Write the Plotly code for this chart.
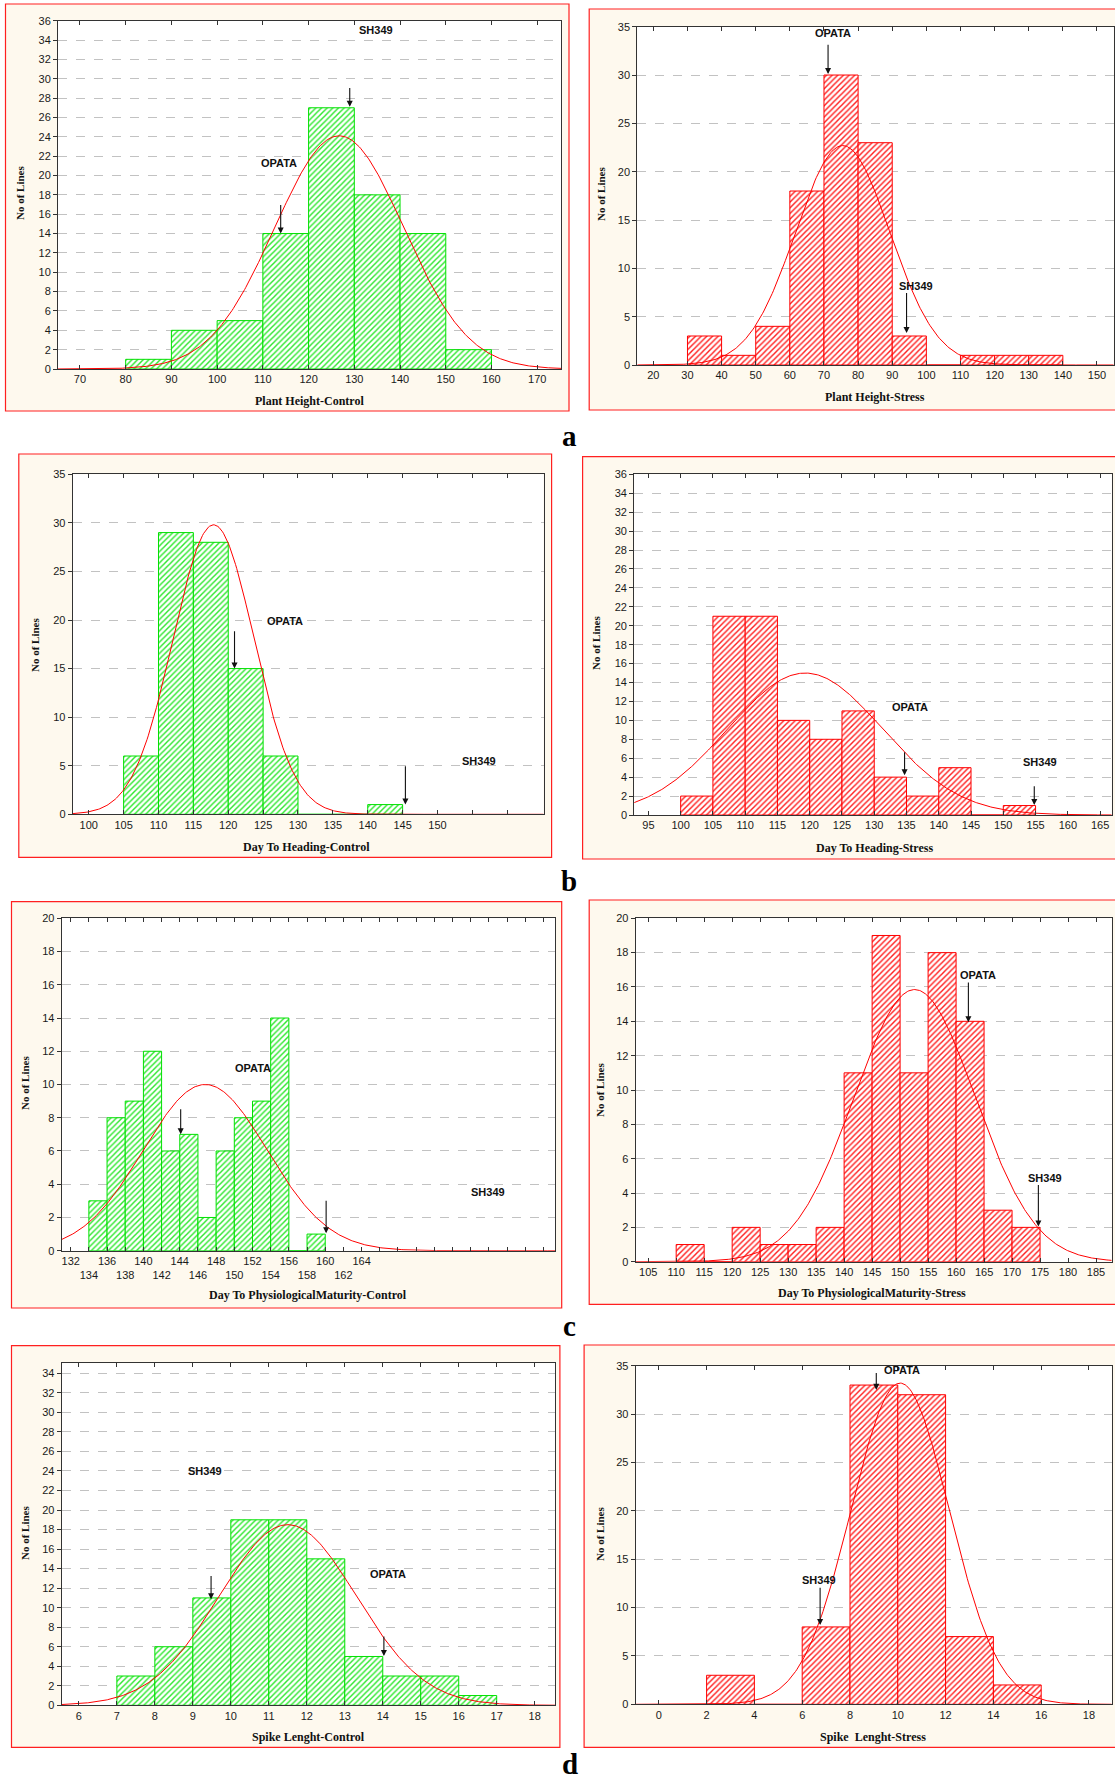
import numpy as np
import plotly.graph_objects as go

W, H = 1115, 1784

# ---------------- data ----------------
# (a) Plant height
ph_ctrl_bins = [80, 90, 100, 110, 120, 130, 140, 150]
ph_ctrl_counts = [1, 4, 5, 14, 27, 18, 14, 2]
ph_ctrl_fit = [126.7, 14.1, 24.1]          # mean, sd, peak count of fitted normal
ph_ctrl_xticks = [70, 80, 90, 100, 110, 120, 130, 140, 150, 160, 170]
ph_ctrl_yticks = [0, 2, 4, 6, 8, 10, 12, 14, 16, 18, 20, 22, 24, 26, 28, 30, 32, 34, 36]

ph_str_bins = [30, 40, 50, 60, 70, 80, 90, 100, 110, 120, 130]
ph_str_counts = [3, 1, 4, 18, 30, 23, 3, 0, 1, 1, 1]
ph_str_fit = [75.5, 13.8, 22.7]
ph_str_xticks = [20, 30, 40, 50, 60, 70, 80, 90, 100, 110, 120, 130, 140, 150]
ph_str_yticks = [0, 5, 10, 15, 20, 25, 30, 35]

# (b) Days to heading
dh_ctrl_bins = [105, 110, 115, 120, 125, 130, 135, 140]
dh_ctrl_counts = [6, 29, 28, 15, 6, 0, 0, 1]
dh_ctrl_fit = [117.9, 5.8, 29.8]
dh_ctrl_xticks = [100, 105, 110, 115, 120, 125, 130, 135, 140, 145, 150, 155, 160]
dh_ctrl_xlabels = ["100", "105", "110", "115", "120", "125", "130", "135", "140", "145", "150", "", ""]
dh_ctrl_yticks = [0, 5, 10, 15, 20, 25, 30, 35]

dh_str_bins = [100, 105, 110, 115, 120, 125, 130, 135, 140, 145, 150]
dh_str_counts = [2, 21, 21, 10, 8, 11, 4, 2, 5, 0, 1]
dh_str_fit = [119.3, 12.0, 15.0]
dh_str_xticks = [95, 100, 105, 110, 115, 120, 125, 130, 135, 140, 145, 150, 155, 160, 165]
dh_str_yticks = [0, 2, 4, 6, 8, 10, 12, 14, 16, 18, 20, 22, 24, 26, 28, 30, 32, 34, 36]

# (c) Days to physiological maturity
pm_ctrl_bins = [134, 136, 138, 140, 142, 144, 146, 148, 150, 152, 154, 156, 158]
pm_ctrl_counts = [3, 8, 9, 12, 6, 7, 2, 6, 8, 9, 14, 0, 1]
pm_ctrl_fit = [146.8, 6.8, 10.0]
pm_ctrl_xticks = [132, 134, 136, 138, 140, 142, 144, 146, 148, 150, 152, 154, 156, 158,
                  160, 162, 164, 166, 168, 170, 172, 174, 176, 178, 180, 182, 184]
pm_ctrl_xlabels = ["132", "<br>134", "136", "<br>138", "140", "<br>142", "144", "<br>146",
                   "148", "<br>150", "152", "<br>154", "156", "<br>158", "160", "<br>162",
                   "164", "", "", "", "", "", "", "", "", "", ""]
pm_ctrl_yticks = [0, 2, 4, 6, 8, 10, 12, 14, 16, 18, 20]

pm_str_bins = [110, 115, 120, 125, 130, 135, 140, 145, 150, 155, 160, 165, 170]
pm_str_counts = [1, 0, 2, 1, 1, 2, 11, 19, 11, 18, 14, 3, 2]
pm_str_fit = [152.6, 10.8, 15.85]
pm_str_xticks = [105, 110, 115, 120, 125, 130, 135, 140, 145, 150, 155, 160, 165, 170, 175, 180, 185]
pm_str_yticks = [0, 2, 4, 6, 8, 10, 12, 14, 16, 18, 20]

# (d) Spike length
sl_ctrl_bins = [7, 8, 9, 10, 11, 12, 13, 14, 15, 16]
sl_ctrl_counts = [3, 6, 11, 19, 19, 15, 5, 3, 3, 1]
sl_ctrl_fit = [11.5, 1.8, 18.5]
sl_ctrl_xticks = [6, 7, 8, 9, 10, 11, 12, 13, 14, 15, 16, 17, 18]
sl_ctrl_yticks = [0, 2, 4, 6, 8, 10, 12, 14, 16, 18, 20, 22, 24, 26, 28, 30, 32, 34]

sl_str_bins = [2, 4, 6, 8, 10, 12, 14]
sl_str_counts = [3, 0, 8, 33, 32, 7, 2]
sl_str_fit = [10.1, 2.05, 33.2]
sl_str_xticks = [0, 2, 4, 6, 8, 10, 12, 14, 16, 18]
sl_str_yticks = [0, 5, 10, 15, 20, 25, 30, 35]

GREEN = dict(hatch="#2ee82e", edge="#00e000")
RED = dict(hatch="#ff2020", edge="#ff0000")

# ---------------- panel layout (pixels) ----------------
panels = [
    dict(bins=ph_ctrl_bins, counts=ph_ctrl_counts, fit=ph_ctrl_fit, bw=10, col=GREEN,
         border=(5.5, 4, 569, 411), plot=(58, 20.7, 561, 369), xr=[65.2, 175.2], yr=[0, 36],
         xt=ph_ctrl_xticks, xl=None, yt=ph_ctrl_yticks,
         xtitle="Plant Height-Control", xtp=(309, 401), ytp=(20, 193),
         labels=[("SH349", 134.7, 35.0), ("OPATA", 113.5, 21.3)],
         arrows=[(129.0, 27.1, 29.2), (113.9, 14.0, 17.1)]),
    dict(bins=ph_str_bins, counts=ph_str_counts, fit=ph_str_fit, bw=10, col=RED,
         border=(589.2, 9, 1125, 410), plot=(637.3, 26.7, 1113.7, 365), xr=[15.3, 154.9], yr=[0, 35],
         xt=ph_str_xticks, xl=None, yt=ph_str_yticks,
         xtitle="Plant Height-Stress", xtp=(875, 397), ytp=(601, 194),
         labels=[("OPATA", 72.5, 34.3), ("SH349", 97.0, 8.2)],
         arrows=[(71.2, 30.1, 33.3), (94.2, 3.3, 7.6)]),
    dict(bins=dh_ctrl_bins, counts=dh_ctrl_counts, fit=dh_ctrl_fit, bw=5, col=GREEN,
         border=(18.8, 454, 551.6, 857.3), plot=(72.7, 474.3, 543.5, 814.3), xr=[97.7, 165.2], yr=[0, 35],
         xt=dh_ctrl_xticks, xl=dh_ctrl_xlabels, yt=dh_ctrl_yticks,
         xtitle="Day To Heading-Control", xtp=(307, 847), ytp=(35, 645),
         labels=[("OPATA", 128.2, 19.9), ("SH349", 155.9, 5.5)],
         arrows=[(120.9, 15.0, 19.0), (145.4, 1.0, 5.1)]),
    dict(bins=dh_str_bins, counts=dh_str_counts, fit=dh_str_fit, bw=5, col=RED,
         border=(582.6, 456.7, 1125, 859), plot=(634.2, 474.3, 1111.7, 815), xr=[92.8, 166.8], yr=[0, 36],
         xt=dh_str_xticks, xl=None, yt=dh_str_yticks,
         xtitle="Day To Heading-Stress", xtp=(874, 848), ytp=(596, 643),
         labels=[("OPATA", 135.5, 11.4), ("SH349", 155.7, 5.6)],
         arrows=[(134.7, 4.2, 6.8), (154.8, 1.06, 3.2)]),
    dict(bins=pm_ctrl_bins, counts=pm_ctrl_counts, fit=pm_ctrl_fit, bw=2, col=GREEN,
         border=(11.5, 901.7, 561.7, 1308), plot=(61.6, 918.3, 555.2, 1250.7), xr=[131.0, 185.3], yr=[0, 20],
         xt=pm_ctrl_xticks, xl=pm_ctrl_xlabels, yt=pm_ctrl_yticks,
         xtitle="Day To PhysiologicalMaturity-Control", xtp=(308, 1295), ytp=(25, 1083),
         labels=[("OPATA", 152.0, 11.0), ("SH349", 177.9, 3.55)],
         arrows=[(144.1, 7.0, 8.6), (160.1, 1.05, 3.1)]),
    dict(bins=pm_str_bins, counts=pm_str_counts, fit=pm_str_fit, bw=5, col=RED,
         border=(589.2, 900, 1125, 1304.3), plot=(635.6, 918.3, 1111.7, 1261.7), xr=[102.75, 187.8], yr=[0, 20],
         xt=pm_str_xticks, xl=None, yt=pm_str_yticks,
         xtitle="Day To PhysiologicalMaturity-Stress", xtp=(872, 1293), ytp=(600, 1090),
         labels=[("OPATA", 164.0, 16.7), ("SH349", 175.9, 4.85)],
         arrows=[(162.2, 13.95, 16.35), (174.7, 2.05, 4.55)]),
    dict(bins=sl_ctrl_bins, counts=sl_ctrl_counts, fit=sl_ctrl_fit, bw=1, col=GREEN,
         border=(11.5, 1345.7, 559.9, 1747.3), plot=(61.6, 1363.3, 555.2, 1705.3), xr=[5.545, 18.54], yr=[0, 35.03],
         xt=sl_ctrl_xticks, xl=None, yt=sl_ctrl_yticks,
         xtitle="Spike Lenght-Control", xtp=(308, 1737), ytp=(25, 1533),
         labels=[("SH349", 9.32, 24.0), ("OPATA", 14.13, 13.45)],
         arrows=[(9.48, 10.86, 13.4), (14.03, 5.05, 7.2)]),
    dict(bins=sl_str_bins, counts=sl_str_counts, fit=sl_str_fit, bw=2, col=RED,
         border=(584.1, 1345, 1125, 1747.3), plot=(635.6, 1365.7, 1111.7, 1704.3), xr=[-0.97, 18.95], yr=[0, 35],
         xt=sl_str_xticks, xl=None, yt=sl_str_yticks,
         xtitle="Spike  Lenght-Stress", xtp=(873, 1737), ytp=(600, 1534),
         labels=[("OPATA", 10.16, 34.6), ("SH349", 6.69, 12.9)],
         arrows=[(9.1, 32.5, 34.4), (6.75, 8.2, 12.2)]),
]

letters = [("a", 569, 436), ("b", 569, 881), ("c", 569, 1326), ("d", 570, 1764)]

TICKFONT = dict(family="Liberation Sans, Arial, sans-serif", size=11, color="#1a1a1a")
SERIF = "Liberation Serif, Times New Roman, serif"

fig = go.Figure()
shapes, annotations = [], []
layout = dict(width=W, height=H, margin=dict(l=0, r=0, t=0, b=0, pad=0, autoexpand=False),
              paper_bgcolor="white", plot_bgcolor="white", showlegend=False, bargap=0,
              template="none")


def px(x):
    return x / W


def py(y):
    return 1 - y / H


def paper_text(text, x, y, font, angle=0):
    return dict(x=px(x), y=py(y), xref="paper", yref="paper", text=text, showarrow=False,
                xanchor="center", yanchor="middle", textangle=angle, font=font)


for i, p in enumerate(panels, start=1):
    sfx = "" if i == 1 else str(i)
    xref, yref = "x" + sfx, "y" + sfx
    bx0, by0, bx1, by1 = p["border"]
    x0, y0, x1, y1 = p["plot"]
    shapes.append(dict(type="rect", xref="paper", yref="paper", x0=px(bx0), x1=px(bx1),
                       y0=py(by1), y1=py(by0), fillcolor="#fef9ee",
                       line=dict(color="#ff2020", width=1.2), layer="below"))
    shapes.append(dict(type="rect", xref="paper", yref="paper", x0=px(x0), x1=px(x1),
                       y0=py(y1), y1=py(y0), fillcolor="white",
                       line=dict(width=0), layer="below"))
    layout["xaxis" + sfx] = dict(
        domain=[px(x0), px(x1)], range=p["xr"], anchor=yref, automargin=False,
        tickmode="array", tickvals=p["xt"], tickangle=0,
        ticktext=p["xl"] if p["xl"] is not None else [str(v) for v in p["xt"]],
        ticks="inside", ticklen=4, tickcolor="#333", showline=True, mirror="allticks",
        linecolor="#333", linewidth=1, showgrid=False, zeroline=False, tickfont=TICKFONT)
    layout["yaxis" + sfx] = dict(
        domain=[py(y1), py(y0)], range=p["yr"], anchor=xref, automargin=False,
        tickmode="array", tickvals=p["yt"],
        ticks="outside", ticklen=4, tickcolor="#333", showline=True, mirror=True,
        linecolor="#333", linewidth=1, showgrid=True, gridcolor="#a8a8a8",
        griddash="dash", gridwidth=0.7, zeroline=False, tickfont=TICKFONT)

    bw = p["bw"]
    fig.add_trace(go.Bar(
        x=[b + bw / 2 for b in p["bins"]], y=p["counts"], width=bw,
        xaxis=xref, yaxis=yref,
        marker=dict(color="white",
                    pattern=dict(shape="/", fgcolor=p["col"]["hatch"], bgcolor="white",
                                 size=4, solidity=0.36),
                    line=dict(color=p["col"]["edge"], width=1))))
    m, sd, pk = p["fit"]
    xs = np.linspace(p["xr"][0], p["xr"][1], 400)
    ys = pk * np.exp(-0.5 * ((xs - m) / sd) ** 2)
    fig.add_trace(go.Scatter(x=xs, y=ys, mode="lines", xaxis=xref, yaxis=yref,
                             line=dict(color="#ff0000", width=1)))

    for (t, lx, ly) in p["labels"]:
        annotations.append(dict(x=lx, y=ly, xref=xref, yref=yref, text="<b>" + t + "</b>",
                                showarrow=False, xanchor="center", yanchor="middle",
                                font=dict(family="Liberation Sans, Arial", size=11, color="#111")))
    for (ax_, tip, tail) in p["arrows"]:
        annotations.append(dict(x=ax_, y=tip, ax=ax_, ay=tail, xref=xref, yref=yref,
                                axref=xref, ayref=yref, text="", showarrow=True,
                                arrowhead=2, arrowsize=1.1, arrowwidth=1.1, arrowcolor="#111",
                                standoff=0, startstandoff=0))
    annotations.append(paper_text("<b>" + p["xtitle"] + "</b>", *p["xtp"],
                                  font=dict(family=SERIF, size=12, color="#111")))
    annotations.append(paper_text("<b>No of Lines</b>", *p["ytp"],
                                  font=dict(family=SERIF, size=11, color="#111"), angle=-90))

for (t, lx, ly) in letters:
    annotations.append(paper_text("<b>" + t + "</b>", lx, ly,
                                  font=dict(family=SERIF, size=29, color="black")))

layout["shapes"] = shapes
layout["annotations"] = annotations
fig.update_layout(**layout)
fig.write_html("out.html", config={"displayModeBar": False, "staticPlot": True},
               post_script="document.body.style.margin='0px';document.body.style.overflow='hidden';")
